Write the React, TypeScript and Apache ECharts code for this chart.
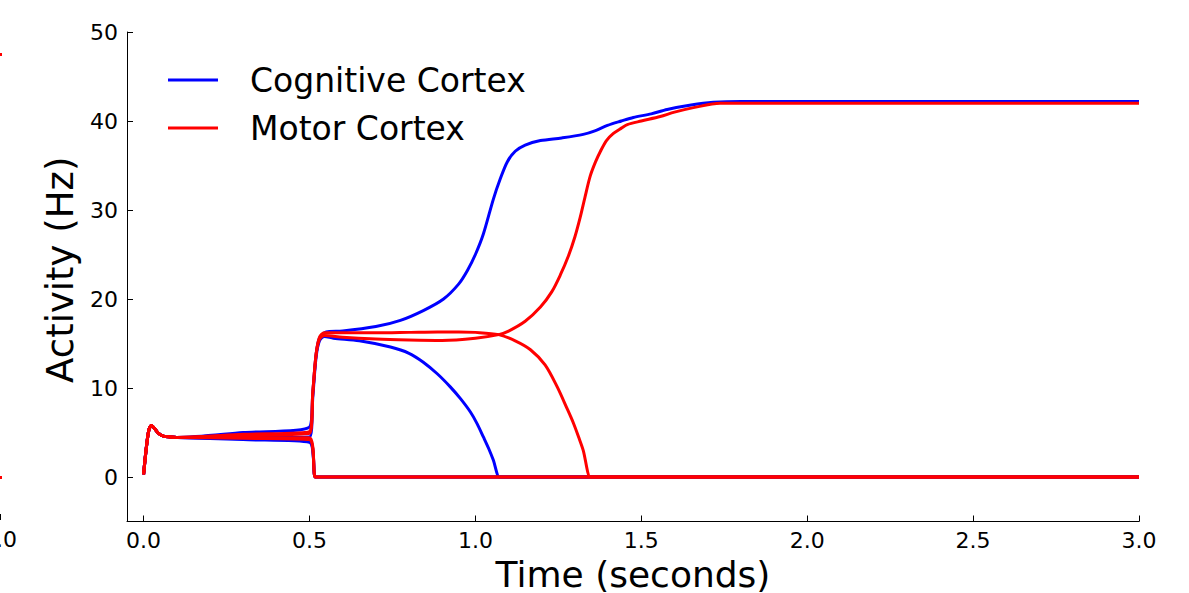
import React, { useEffect, useRef } from "react";
import * as echarts from "echarts";

// Shared initial transient (all populations), time in seconds, activity in Hz
const initT = [0, 0.008, 0.016, 0.024, 0.032, 0.045, 0.06, 0.08, 0.1];
const initV = [0.3, 3.2, 5.3, 5.8, 5.5, 4.9, 4.6, 4.5, 4.45];

// Cognitive cortex: winner
const cogWinT = [0.3, 0.5, 0.51, 0.52, 0.53, 0.545, 0.56, 0.6, 0.7, 0.774, 0.843, 0.904, 0.95, 0.976, 1.0, 1.024, 1.054, 1.075, 1.096, 1.12, 1.15, 1.196, 1.26, 1.325, 1.36, 1.398, 1.44, 1.476, 1.53, 1.578, 1.65, 1.717, 1.8, 2.0, 2.5, 3.0];
const cogWinV = [5.0, 5.6, 9.5, 13.8, 15.6, 16.2, 16.35, 16.4, 16.9, 17.6, 18.7, 20.0, 21.7, 23.2, 25.0, 27.3, 31.2, 33.5, 35.4, 36.6, 37.3, 37.8, 38.1, 38.5, 38.9, 39.5, 40.0, 40.4, 40.8, 41.3, 41.8, 42.1, 42.2, 42.2, 42.2, 42.2];

// Cognitive cortex: loser that decays after the jump
const cogLoseT = [0.3, 0.5, 0.51, 0.52, 0.53, 0.545, 0.572, 0.65, 0.744, 0.8, 0.843, 0.885, 0.925, 0.955, 0.985, 1.005, 1.024, 1.04, 1.054, 1.072, 1.08, 3.0];
const cogLoseV = [4.45, 4.5, 9.0, 13.5, 15.3, 15.8, 15.6, 15.3, 14.6, 13.9, 12.9, 11.6, 10.1, 8.8, 7.3, 6.0, 4.5, 3.2, 1.9, 0, 0, 0];

// Cognitive cortex: populations silenced at 0.5 s
const cogOffAT = [0.3, 0.5, 0.517, 0.525, 3.0];
const cogOffAV = [4.3, 4.1, 0, 0, 0];
const cogOffBT = [0.3, 0.5, 0.517, 0.525, 3.0];
const cogOffBV = [4.2, 3.9, 0, 0, 0];

// Motor cortex: winner
const motWinT = [0.3, 0.5, 0.51, 0.52, 0.53, 0.545, 0.6, 0.7, 0.8, 0.9, 1.0, 1.07, 1.1, 1.15, 1.196, 1.23, 1.256, 1.28, 1.3, 1.316, 1.33, 1.346, 1.362, 1.377, 1.395, 1.416, 1.44, 1.458, 1.5, 1.557, 1.6, 1.657, 1.738, 1.8, 2.5, 3.0];
const motWinV = [4.8, 5.1, 9.5, 13.8, 15.5, 15.9, 15.7, 15.5, 15.4, 15.35, 15.6, 16.0, 16.4, 17.5, 19.1, 20.8, 22.7, 24.8, 27.0, 29.2, 31.4, 33.8, 35.4, 36.6, 37.8, 38.6, 39.2, 39.6, 40.0, 40.5, 41.0, 41.5, 42.0, 42.0, 42.0, 42.0];

// Motor cortex: loser
const motLoseT = [0.3, 0.5, 0.51, 0.52, 0.53, 0.545, 0.6, 0.7, 0.8, 0.886, 0.95, 1.0, 1.07, 1.12, 1.166, 1.21, 1.247, 1.275, 1.295, 1.312, 1.325, 1.346, 1.355, 3.0];
const motLoseV = [4.7, 4.9, 9.5, 13.8, 15.7, 16.2, 16.2, 16.2, 16.25, 16.3, 16.3, 16.25, 16.0, 15.3, 14.3, 12.6, 10.1, 7.8, 6.1, 4.4, 3.0, 0, 0, 0];

// Motor cortex: populations silenced at 0.5 s
const motOffAT = [0.3, 0.5, 0.517, 0.525, 3.0];
const motOffAV = [4.45, 4.4, 0, 0, 0];
const motOffBT = [0.3, 0.5, 0.517, 0.525, 3.0];
const motOffBV = [4.35, 4.2, 0, 0, 0];

const xTicks = [0, 0.5, 1.0, 1.5, 2.0, 2.5, 3.0];
const yTicks = [0, 10, 20, 30, 40, 50];

const COG = "Cognitive Cortex";
const MOT = "Motor Cortex";

function pairs(t: number[], v: number[]) {
  const out: number[][] = [];
  for (let i = 0; i < initT.length; i++) out.push([initT[i], initV[i]]);
  for (let i = 0; i < t.length; i++) out.push([t[i], v[i]]);
  return out;
}

const FONT = "DejaVu Sans";

export default function App() {
  const ref = useRef<HTMLDivElement>(null);
  useEffect(() => {
    if (!ref.current) return;
    const chart = echarts.init(ref.current, undefined, { renderer: "svg" });
    const mk = (name: string, color: string, t: number[], v: number[]) => ({
      type: "line",
      name,
      color,
      data: pairs(t, v),
      showSymbol: false,
      symbol: "none",
      smooth: 0.3,
      lineStyle: { color, width: 3 },
      emphasis: { disabled: true },
    });
    chart.setOption({
      animation: false,
      backgroundColor: "#ffffff",
      textStyle: { fontFamily: FONT },
      grid: { left: 127, right: 50, top: 32, bottom: 71.5, containLabel: false, outerBoundsMode: "none" },
      legend: {
        left: 163,
        top: 57,
        orient: "vertical",
        icon: "rect",
        itemWidth: 50,
        itemHeight: 3,
        itemGap: 12,
        data: [COG, MOT],
        textStyle: { fontFamily: FONT, fontSize: 33, color: "#000", lineHeight: 36, padding: [0, 0, 0, 27] },
      },
      xAxis: {
        type: "value",
        min: -0.05,
        max: 3.0,
        name: "Time (seconds)",
        nameLocation: "middle",
        nameGap: 35,
        nameTextStyle: { fontFamily: FONT, fontSize: 36, lineHeight: 34, color: "#000" },
        axisLine: { show: true, onZero: false, lineStyle: { color: "#000", width: 1 } },
        axisTick: { show: true, inside: true, length: 6, customValues: xTicks, lineStyle: { color: "#000" } },
        axisLabel: {
          show: true,
          customValues: xTicks,
          margin: 8,
          fontFamily: FONT,
          fontSize: 22,
          color: "#000",
          formatter: (v: number) => v.toFixed(1),
        },
        splitLine: { show: false },
      },
      yAxis: {
        type: "value",
        min: -5,
        max: 50,
        name: "Activity (Hz)",
        nameLocation: "middle",
        nameGap: 48,
        nameRotate: 90,
        nameTextStyle: { fontFamily: FONT, fontSize: 37, color: "#000", padding: [0, 0, 0, 14] },
        axisLine: { show: true, onZero: false, lineStyle: { color: "#000", width: 1 } },
        axisTick: { show: true, inside: true, length: 6, customValues: yTicks, lineStyle: { color: "#000" } },
        axisLabel: {
          show: true,
          customValues: yTicks,
          margin: 9,
          fontFamily: FONT,
          fontSize: 22,
          color: "#000",
        },
        splitLine: { show: false },
      },
      graphic: [
        { type: "text", left: -18, top: 528, style: { text: "1.0", font: `22px ${FONT}`, fill: "#000" } },
        { type: "rect", shape: { x: 0, y: 514, width: 1, height: 6 }, style: { fill: "#000" } },
        { type: "rect", shape: { x: 0, y: 53, width: 2, height: 3 }, style: { fill: "#ff0000" } },
        { type: "rect", shape: { x: 0, y: 476, width: 2, height: 3 }, style: { fill: "#ff0000" } },
      ],
      series: [
        mk(COG, "#0000ff", cogWinT, cogWinV),
        mk(COG, "#0000ff", cogLoseT, cogLoseV),
        mk(COG, "#0000ff", cogOffAT, cogOffAV),
        mk(COG, "#0000ff", cogOffBT, cogOffBV),
        mk(MOT, "#ff0000", motWinT, motWinV),
        mk(MOT, "#ff0000", motLoseT, motLoseV),
        mk(MOT, "#ff0000", motOffAT, motOffAV),
        mk(MOT, "#ff0000", motOffBT, motOffBV),
      ],
    });
    return () => chart.dispose();
  }, []);
  return (
    <div
      ref={ref}
      style={{ position: "fixed", left: 0, top: 0, width: 1189, height: 593, background: "#fff" }}
    />
  );
}
